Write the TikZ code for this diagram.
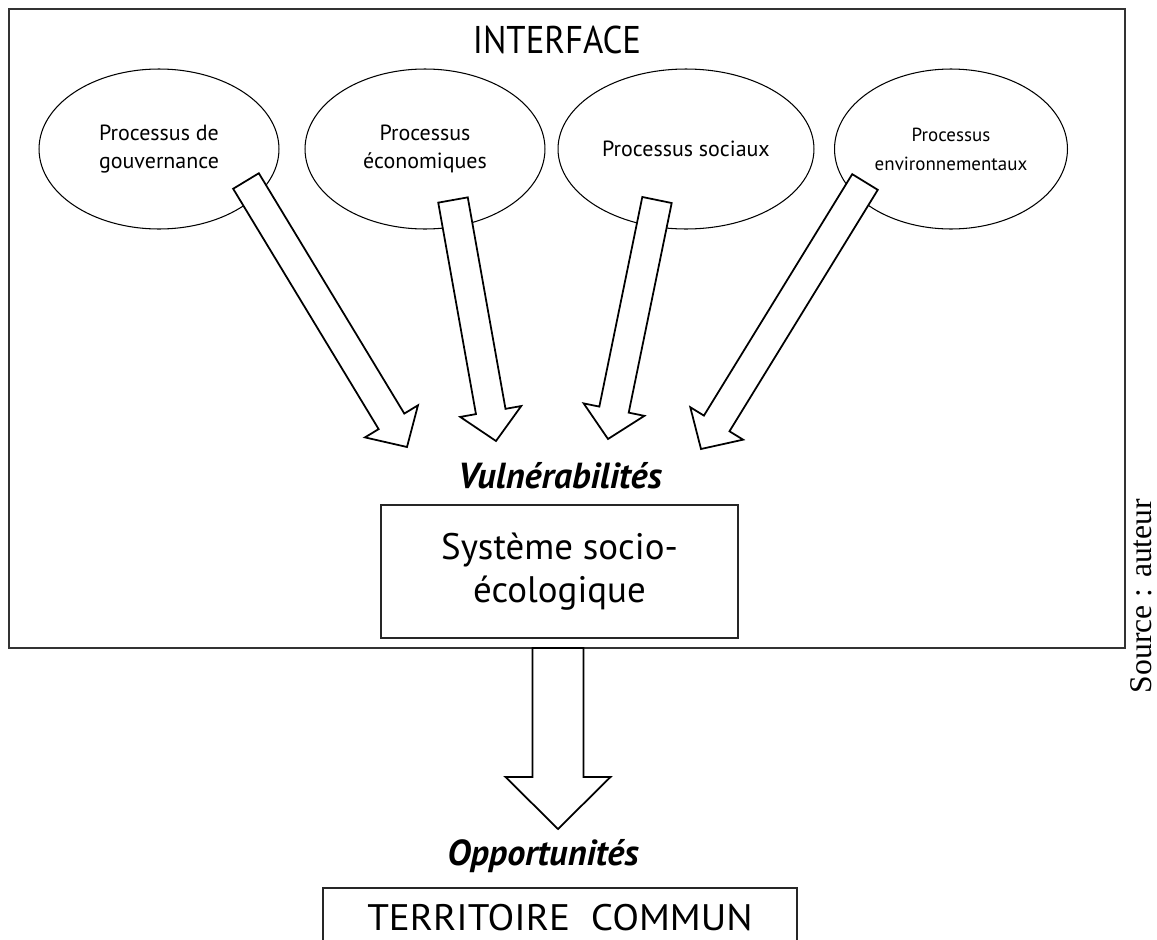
\documentclass[tikz,border=0pt]{standalone}
\usepackage{fontspec}
\setmainfont{PT Sans}
\newfontfamily\titlefont[FakeStretch=0.9]{PT Sans}
\newfontfamily\widefont[FakeStretch=1.06]{PT Sans}
\newfontfamily\sourcefont{Liberation Serif}
\usetikzlibrary{shapes.geometric,calc}
\tikzset{
  proc/.style={draw,ellipse,line width=0.6pt,inner sep=0pt,minimum height=3.2cm,
    align=center,font=\fontsize{12.5}{16.4}\selectfont},
  sysbox/.style={draw=black!85,line width=1pt,inner sep=0pt,align=center},
  keyword/.style={font=\fontsize{20.6}{24}\selectfont\bfseries\itshape,inner sep=0pt,anchor=base},
  fat/.style={draw,fill=white,line width=1pt,line join=miter}
}
\newcommand{\fatarrow}[5]{%
  \coordinate (h) at ($(#2)!#5!(#1)$);
  \draw[fat] ($(#1)!#3!90:(#2)$) -- ($(h)!#3!90:(#2)$) -- ($(h)!#4!90:(#2)$)
    -- (#2) -- ($(h)!#4!-90:(#2)$) -- ($(h)!#3!-90:(#2)$) -- ($(#1)!#3!-90:(#2)$) -- cycle;
}
\begin{document}
\begin{tikzpicture}[x=0.02cm,y=-0.02cm]
  \useasboundingbox (0,0) rectangle (1157,940);
  \draw[draw=black!80,line width=1.2pt] (9,9) rectangle (1125,648);
  \node[font={\fontsize{22}{26}\titlefont},inner sep=0pt] (title) at (557,40) {INTERFACE};

  \node[proc,minimum width=4.8cm] (gov) at (159,149) {Processus de\\gouvernance};
  \node[proc,minimum width=4.8cm] (eco) at (425,149) {Processus\\économiques};
  \node[proc,minimum width=5.12cm] (soc) at (686,149) {Processus sociaux};
  \node[proc,minimum width=4.66cm,font=\fontsize{10.8}{16.4}\selectfont] (env) at (951,149)
    {Processus\\environnementaux};

  \node[keyword] (vuln) at (560,488) {Vulnérabilités};
  \node[sysbox,minimum width=7.14cm,minimum height=2.66cm,font=\fontsize{21}{24.4}\selectfont]
    (ses) at (559.5,571.5) {Système socio-\\écologique};

  \coordinate (gov-out) at (246,181);
  \coordinate (eco-out) at (453,200);
  \coordinate (soc-out) at (657,200);
  \coordinate (env-out) at (865,182);
  \coordinate (vuln-1) at (407,447);
  \coordinate (vuln-2) at (496,441);
  \coordinate (vuln-3) at (608,439);
  \coordinate (vuln-4) at (701,449);
  \fatarrow{gov-out}{vuln-1}{0.3cm}{0.62cm}{0.6cm}
  \fatarrow{eco-out}{vuln-2}{0.3cm}{0.62cm}{0.6cm}
  \fatarrow{soc-out}{vuln-3}{0.3cm}{0.62cm}{0.6cm}
  \fatarrow{env-out}{vuln-4}{0.3cm}{0.62cm}{0.6cm}

  \coordinate (ses-out) at (558,648);
  \coordinate (opp-in) at (558,829);
  \fatarrow{ses-out}{opp-in}{0.51cm}{1.05cm}{1.04cm}

  \node[keyword] (opp) at (543,865) {Opportunités};
  \node[sysbox,anchor=north,minimum width=9.48cm,minimum height=1.2cm,font={\fontsize{21}{24}\widefont}]
    (terr) at (560,887) {TERRITOIRE\ \ COMMUN};

  \node[font={\fontsize{18}{20}\sourcefont},rotate=90,anchor=base,inner sep=0pt] (src) at (1151,596)
    {Source : auteur};
\end{tikzpicture}
\end{document}
